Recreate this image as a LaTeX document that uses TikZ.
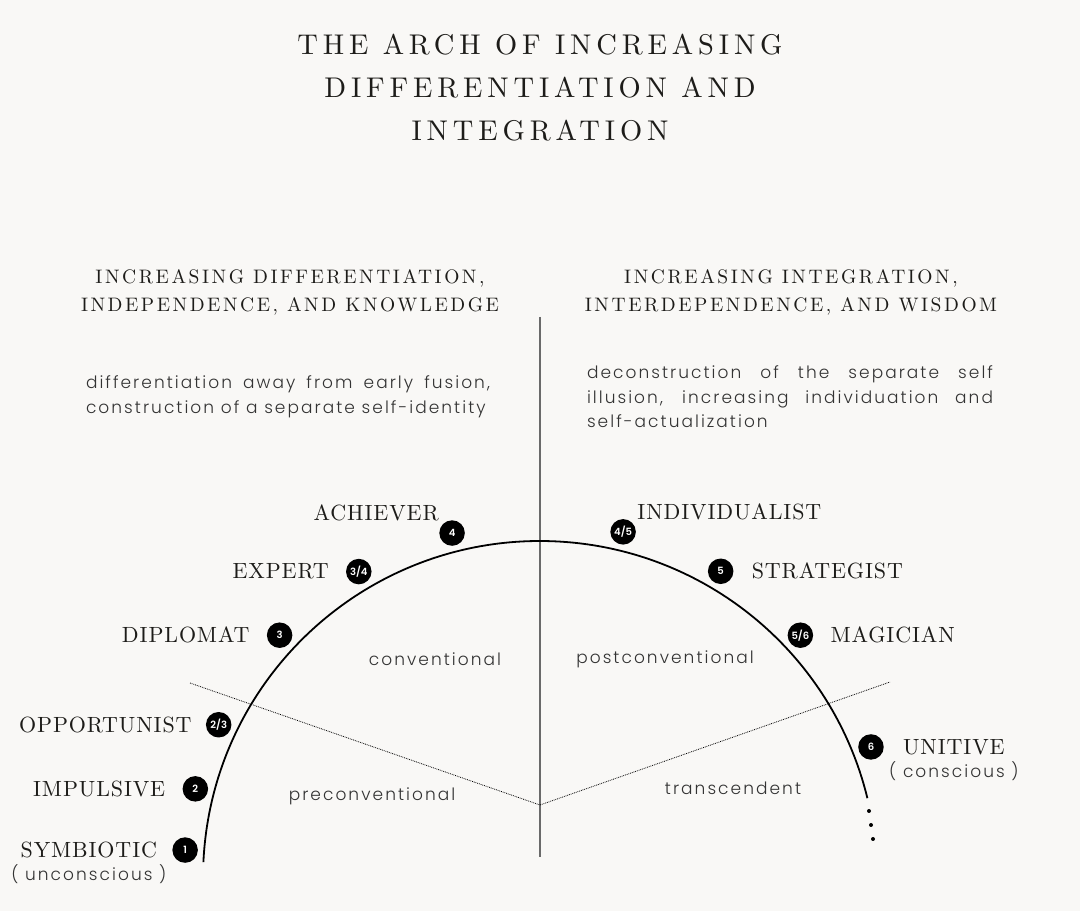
\documentclass[tikz,border=0pt]{standalone}
\usepackage{fontspec}
\usepackage{tikz}
\usetikzlibrary{positioning}
\newfontfamily\bodyfont{Poppins Light}[LetterSpace=12]
\newfontfamily\badgefont{Poppins SemiBold}
\newfontfamily\capsfont{lmroman10-regular.otf}
\definecolor{bgcol}{HTML}{F9F8F6}
\definecolor{inkcol}{HTML}{1D1C19}
\definecolor{notecol}{HTML}{333333}
\definecolor{rulecol}{HTML}{6A6A6A}
\tikzset{
  badge/.style={circle, fill=black, text=white, minimum size=25.5pt, inner sep=0pt,
    font=\badgefont\fontsize{10}{10}\selectfont},
  stage/.style={inner sep=0pt, text=inkcol,
    font=\capsfont\fontsize{22}{22}\selectfont\addfontfeature{LetterSpace=4}},
  heading/.style={inner sep=0pt, text=inkcol, align=center,
    font=\capsfont\fontsize{19.5}{28}\selectfont\addfontfeature{LetterSpace=13}},
  note/.style={inner sep=0pt, text=notecol, font=\bodyfont\fontsize{17}{24.5}\selectfont},
}
\begin{document}
\begin{tikzpicture}[x=1pt, y=1pt]
  \fill[bgcol] (0,0) rectangle (1080,911);
  \useasboundingbox (0,0) rectangle (1080,911);
  % title and headings
  \node[inner sep=0pt, text=inkcol, align=center,
    font=\capsfont\fontsize{28.5}{43}\selectfont\addfontfeature{LetterSpace=17}]
    (title) at (540,823.5) {THE ARCH OF INCREASING\\DIFFERENTIATION AND\\INTEGRATION};
  \node[heading] (lefthead) at (290,619) {INCREASING DIFFERENTIATION,\\INDEPENDENCE, AND KNOWLEDGE};
  \node[heading] (righthead) at (791,619) {INCREASING INTEGRATION,\\INTERDEPENDENCE, AND WISDOM};
  \node[note, text width=404pt, align=justify] (leftnote) at (288,514)
    {differentiation away from early fusion,\linebreak construction of a separate self-identity};
  \node[note, text width=406pt, align=justify] (rightnote) at (790,514)
    {deconstruction of the separate self\linebreak illusion, increasing individuation and\linebreak self-actualization};
  % axis, dividers and the arch
  \coordinate (c) at (540,33);
  \coordinate (axistop) at (540,594);
  \coordinate (axisbot) at (540,54);
  \coordinate (dleft) at (190,228);
  \coordinate (dmid) at (540,106);
  \coordinate (dright) at (890,229);
  \draw[rulecol, line width=1.4pt] (axistop) -- (axisbot);
  \draw[black, densely dotted, line width=0.8pt] (dleft) -- (dmid) -- (dright);
  \draw[black, line width=1.8pt] ([shift={(177.3:337pt)}]c) arc[start angle=177.3, end angle=13.7, radius=337pt];
  \fill (869,100) circle (2pt);
  \fill (871,86) circle (2pt);
  \fill (873,72) circle (2pt);
  % stages
  \node[badge] (b1) at ([shift={(175.5:356pt)}]c) {1};
  \node[badge] (b2) at ([shift={(165.5:356pt)}]c) {2};
  \node[badge] (b23) at ([shift={(154.5:356pt)}]c) {2/3};
  \node[badge] (b3) at ([shift={(137:356pt)}]c) {3};
  \node[badge] (b34) at ([shift={(120.6:356pt)}]c) {3/4};
  \node[badge] (b4) at ([shift={(104.3:356pt)}]c) {4};
  \node[badge] (b45) at ([shift={(76.5:356pt)}]c) {4/5};
  \node[badge] (b5) at ([shift={(59.5:356pt)}]c) {5};
  \node[badge] (b56) at ([shift={(43:356pt)}]c) {5/6};
  \node[badge] (b6) at ([shift={(21.6:356pt)}]c) {6};
  \node[stage, left=15pt of b1] (symbiotic) {SYMBIOTIC};
  \node[note, below=6.5pt of symbiotic] (unconscious) {( unconscious )};
  \node[stage, left=17pt of b2] (impulsive) {IMPULSIVE};
  \node[stage, left=14pt of b23] (opportunist) {OPPORTUNIST};
  \node[stage, left=17pt of b3] (diplomat) {DIPLOMAT};
  \node[stage, left=17pt of b34] (expert) {EXPERT};
  \node[stage, above left=3pt and 4pt of b4] (achiever) {ACHIEVER};
  \node[stage, above right=3pt and 5pt of b45] (individualist) {INDIVIDUALIST};
  \node[stage, right=18pt of b5] (strategist) {STRATEGIST};
  \node[stage, right=17pt of b56] (magician) {MAGICIAN};
  \node[stage, right=19pt of b6] (unitive) {UNITIVE};
  \node[note, below=6.5pt of unitive] (conscious) {( conscious )};
  % zones
  \node[note] (conv) at (435,252) {conventional};
  \node[note] (postconv) at (665,252) {postconventional};
  \node[note] (preconv) at (372,115) {preconventional};
  \node[note] (transc) at (733,123) {transcendent};
\end{tikzpicture}
\end{document}
